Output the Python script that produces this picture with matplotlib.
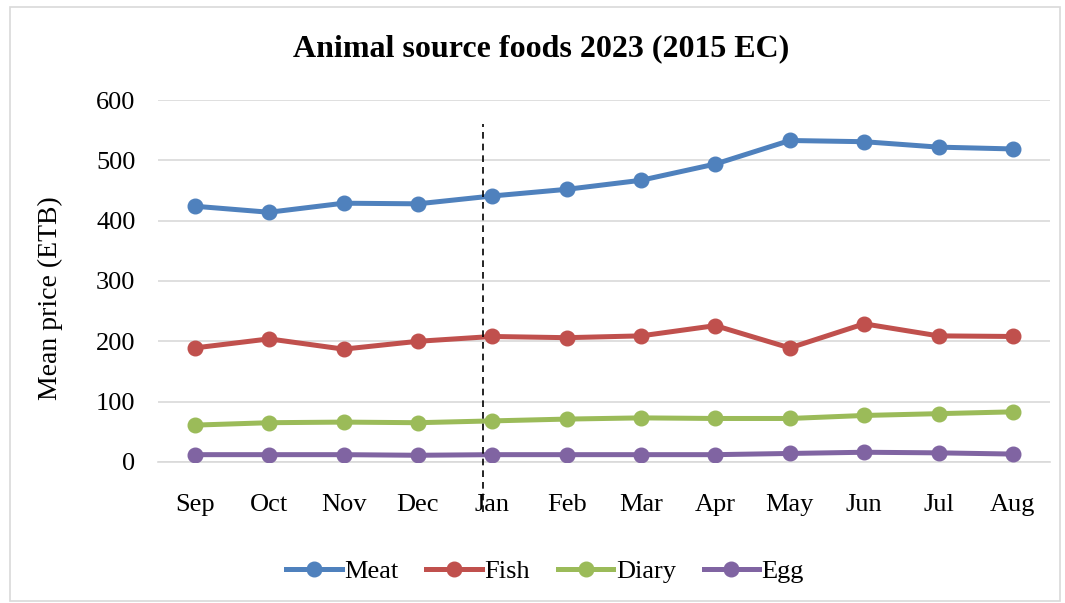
"""
Animal source foods 2023 (2015 EC): monthly mean prices, Excel-style line chart.
"""

import matplotlib
matplotlib.use("Agg")
import matplotlib.pyplot as plt
from matplotlib.patches import Rectangle

months = ["Sep", "Oct", "Nov", "Dec", "Jan", "Feb", "Mar", "Apr", "May", "Jun", "Jul", "Aug"]
meat = [424, 414, 429, 428, 441, 452, 467, 494, 533, 531, 522, 519]
fish = [189, 204, 187, 200, 208, 206, 209, 226, 189, 229, 209, 208]
diary = [61, 65, 66, 65, 68, 71, 73, 72, 72, 77, 80, 83]
egg = [12, 12, 12, 11, 12, 12, 12, 12, 14, 16, 15, 13]
yticks = [0, 100, 200, 300, 400, 500, 600]

series = [("Meat", meat, "#4F81BD"), ("Fish", fish, "#C0504D"),
          ("Diary", diary, "#9BBB59"), ("Egg", egg, "#8064A2")]

plt.rcParams["font.family"] = ["Liberation Serif", "DejaVu Serif"]

fig = plt.figure(figsize=(10.65, 6.03), dpi=100)
ax = fig.add_axes([0.148, 0.234, 0.838, 0.600])

# outer chart border
fig.patches.append(Rectangle((0.009, 0.004), 0.986, 0.984, transform=fig.transFigure,
                             fill=False, edgecolor="#d9d9d9", linewidth=1.2))

x = list(range(len(months)))
for name, vals, col in series:
    ax.plot(x, vals, color=col, linewidth=3.6, marker="o", markersize=10.5,
            label=name, zorder=3)

# dashed separator between Dec and Jan (runs down through the Jan label)
ax.plot([3.88, 3.88], [-83, 560], color="black", linestyle=(0, (4, 3)),
        linewidth=1.2, clip_on=False, zorder=4)

ax.set_xlim(-0.5, 11.5)
ax.set_ylim(0, 600)
ax.set_xticks(x)
ax.set_xticklabels(months, fontsize=19)
ax.set_yticks(yticks)
ax.set_yticklabels([str(v) for v in yticks], fontsize=19)
ax.tick_params(length=0)
ax.tick_params(axis="y", pad=16)
ax.tick_params(axis="x", pad=23)
ax.grid(axis="y", color="#d9d9d9", linewidth=1.2)
ax.set_axisbelow(True)
for s in ["top", "right", "left"]:
    ax.spines[s].set_visible(False)
ax.spines["bottom"].set_color("#d9d9d9")
ax.spines["bottom"].set_linewidth(1.2)

fig.text(50 / 1065, 1 - 298 / 603, "Mean price (ETB)", rotation=90,
         ha="center", va="center", fontsize=20)
fig.text(0.508, 0.92, "Animal source foods 2023 (2015 EC)", ha="center", va="center",
         fontsize=23, fontweight="bold")

fig.legend(loc="center", bbox_to_anchor=(0.512, 0.052), ncol=4, frameon=False,
           fontsize=19, handlelength=2.1, columnspacing=1.05, handletextpad=0.1)

fig.savefig("out.png", dpi=100)
